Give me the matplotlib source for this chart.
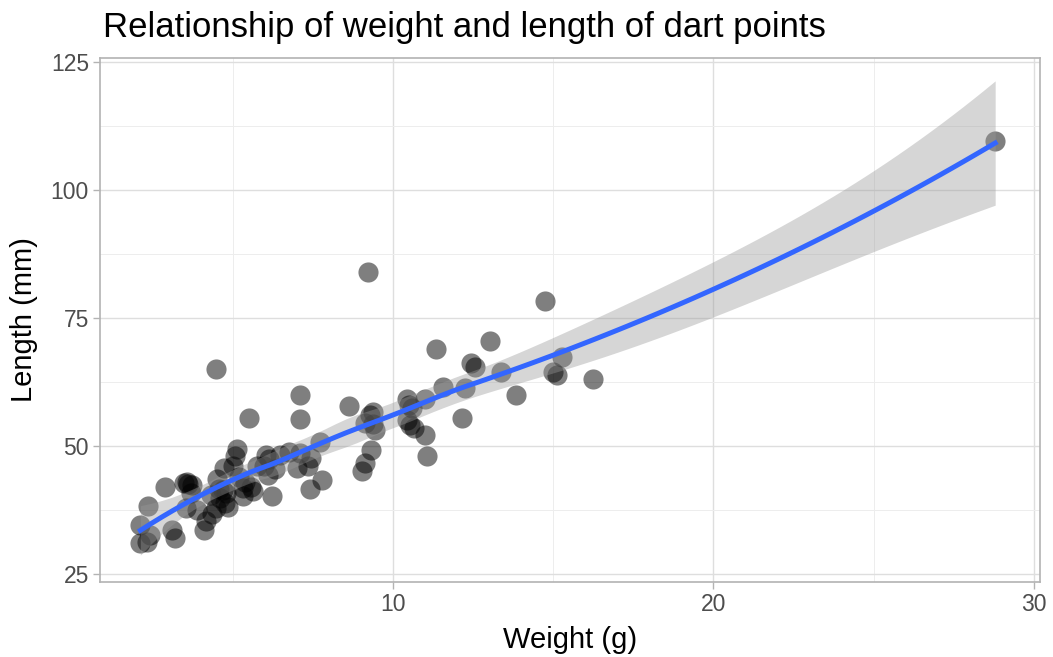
import numpy as np
import matplotlib
matplotlib.use("Agg")
import matplotlib.pyplot as plt

plt.rcParams['font.family'] = ['Liberation Sans', 'DejaVu Sans']

# dart points: weight (g) and length (mm)
weight = [2.10, 2.35, 2.10, 2.30, 2.40, 2.88, 3.08, 3.19, 3.47, 3.52,
          3.72, 3.68, 3.87, 4.08, 4.15, 4.35, 4.45, 4.48, 4.47, 4.58,
          4.75, 4.78, 4.72, 4.98, 5.05, 5.12, 5.30, 5.30, 5.38, 5.48,
          5.62, 5.17, 5.74, 5.95, 6.02, 6.12, 6.10, 6.22, 6.75, 6.99,
          7.08, 7.09, 7.09, 7.35, 7.42, 7.41, 7.72, 7.78, 8.62, 9.02,
          9.13, 9.22, 9.13, 9.30, 9.28, 9.37, 9.38, 9.44, 10.43, 10.43,
          10.53, 10.60, 10.65, 11.00, 11.00, 11.05, 11.34, 11.55, 12.15, 12.25,
          12.43, 12.55, 13.03, 13.35, 13.84, 14.75, 15.00, 15.10, 15.28, 16.25,
          28.80, 4.30, 4.68, 3.55, 6.30, 4.55, 5.55, 6.45, 3.60, 4.85,
          10.50]
length = [34.6, 38.3, 31.0, 31.3, 32.6, 41.9, 33.6, 32.0, 42.8, 37.9,
          42.4, 40.8, 37.5, 33.5, 35.4, 36.6, 37.9, 43.5, 65.0, 39.8,
          38.8, 40.8, 45.6, 46.0, 48.0, 49.4, 40.3, 41.7, 43.0, 55.5,
          41.2, 44.0, 46.0, 46.0, 48.2, 47.5, 44.3, 40.3, 48.8, 45.6,
          48.6, 60.0, 55.3, 46.0, 47.6, 41.6, 50.8, 43.3, 57.7, 45.0,
          46.6, 84.0, 54.4, 49.1, 56.1, 56.7, 54.2, 53.1, 59.2, 55.0,
          54.1, 57.5, 53.5, 59.1, 52.1, 48.1, 69.0, 61.5, 55.4, 61.3,
          66.2, 65.5, 70.4, 64.5, 60.0, 78.3, 64.5, 63.9, 67.4, 63.1,
          109.5, 40.4, 41.4, 43.0, 45.4, 41.5, 42.0, 48.3, 42.5, 38.0,
          58.0]

x = np.array(weight)
y = np.array(length)
n = len(x)
span = 0.75


# local quadratic fit at v: rows giving value and slope as linear maps of y
def local_rows(v):
    d = np.abs(x - v)
    h = np.sort(d)[int(np.floor(n * span)) - 1]
    w = np.clip(1 - (d / h) ** 3, 0, None) ** 3
    X = np.column_stack([np.ones(n), x - v, (x - v) ** 2])
    XtW = X.T * w
    B = np.linalg.solve(XtW @ X, XtW)
    return B[0], B[1]


# kd-tree vertices, as loess(surface = "interpolate") does in 1d
fc = int(np.floor(n * span * 0.2))
lo, hi = x.min(), x.max()
mu = 0.005 * (hi - lo)
verts = {lo - mu, hi + mu}


def split(pts):
    if len(pts) <= fc:
        return
    s = np.sort(pts)
    m = (len(s) + 1) // 2
    t = (s[m - 1] + s[m]) / 2
    verts.add(t)
    split(pts[pts <= t])
    split(pts[pts > t])


split(x)
verts = np.array(sorted(verts))
vals, slopes = zip(*[local_rows(v) for v in verts])
vals = np.array(vals)
slopes = np.array(slopes)


# cubic Hermite interpolation of the operator rows between vertices
def operator(x0):
    rows = []
    for v in x0:
        i = min(np.searchsorted(verts, v, side='right') - 1, len(verts) - 2)
        a, b = verts[i], verts[i + 1]
        h = b - a
        t = (v - a) / h
        h00 = 2 * t ** 3 - 3 * t ** 2 + 1
        h10 = t ** 3 - 2 * t ** 2 + t
        h01 = -2 * t ** 3 + 3 * t ** 2
        h11 = t ** 3 - t ** 2
        rows.append(h00 * vals[i] + h10 * h * slopes[i]
                    + h01 * vals[i + 1] + h11 * h * slopes[i + 1])
    return np.array(rows)


L = operator(x)
R = np.eye(n) - L
RR = R.T @ R
delta1 = np.trace(RR)
delta2 = np.trace(RR @ RR)
sigma = np.sqrt(np.sum((R @ y) ** 2) / delta1)
df = delta1 ** 2 / delta2
z = 1.959964
tq = z + (z ** 3 + z) / (4 * df) + (5 * z ** 5 + 16 * z ** 3 + 3 * z) / (96 * df ** 2)

xs = np.linspace(x.min(), x.max(), 80)
Ls = operator(xs)
fit = Ls @ y
se = sigma * np.sqrt(np.sum(Ls ** 2, axis=1))

fig = plt.figure(figsize=(10.53, 6.57), dpi=100)
ax = fig.add_axes([100 / 1053, 1 - 582 / 657, 940 / 1053, 524 / 657])

ax.scatter(x, y, s=210, color='black', alpha=0.5, linewidths=0, zorder=3)
ax.fill_between(xs, fit - tq * se, fit + tq * se, color='#999999', alpha=0.4,
                linewidth=0, zorder=4)
ax.plot(xs, fit, color='#3366FF', linewidth=3.6, zorder=5)

ax.set_xlim(0.84, 30.2)
ax.set_ylim(23.4, 125.8)
ax.set_xticks([10, 20, 30])
ax.set_yticks([25, 50, 75, 100, 125])
ax.set_xticks([5, 15, 25], minor=True)
ax.set_yticks([37.5, 62.5, 87.5, 112.5], minor=True)
ax.grid(which='major', color='#DEDEDE', linewidth=1.0, zorder=0)
ax.grid(which='minor', color='#EDEDED', linewidth=0.7, zorder=0)
ax.set_axisbelow(True)
for s in ax.spines.values():
    s.set_color('#B3B3B3')
    s.set_linewidth(1.2)
ax.tick_params(which='major', color='#B3B3B3', length=5, width=1,
               labelsize=16.5, labelcolor='#4D4D4D', pad=3)
ax.tick_params(which='minor', length=0)

ax.set_xlabel('Weight (g)', fontsize=21, labelpad=7)
ax.set_ylabel('Length (mm)', fontsize=21, labelpad=9)
fig.text(103 / 1053, 1 - 37 / 657, 'Relationship of weight and length of dart points',
         fontsize=25, ha='left', va='baseline')

fig.savefig('out.png', dpi=100)
